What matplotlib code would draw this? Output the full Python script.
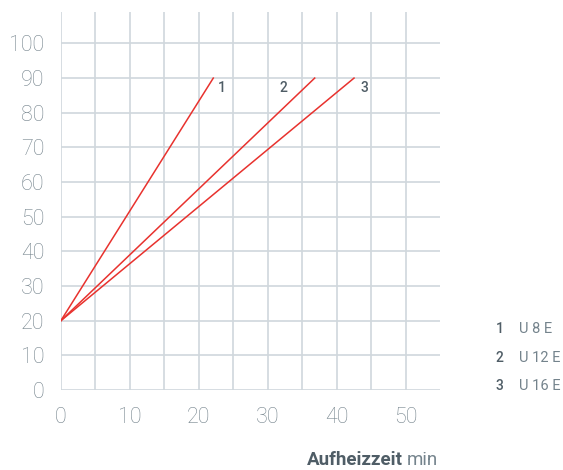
import matplotlib
matplotlib.use("Agg")
import matplotlib.pyplot as plt
import numpy as np

# data
start_temp = 20
end_temp = 90
end_times = [22.1, 36.8, 42.5]   # minutes to reach 90
curve_ids = ["1", "2", "3"]
models = ["U 8 E", "U 12 E", "U 16 E"]
label_x = [23.4, 32.3, 44.0]

x_ticks = [0, 10, 20, 30, 40, 50]
y_ticks = [0, 10, 20, 30, 40, 50, 60, 70, 80, 90, 100]

plt.rcParams['font.family'] = ['Roboto', 'DejaVu Sans']
grey = "#74838c"
dark = "#4f5d66"
gridc = "#d0d7dd"
red = "#e8322e"

fig = plt.figure(figsize=(5.63, 4.70), dpi=100)
ax = fig.add_axes([0.108, 0.170, 0.674, 0.804])
ax.set_xlim(0, 55)
ax.set_ylim(0, 109)

#grid drawn by hand: verticals up to top, horizontals up to 100
ax.vlines(np.arange(0, 55, 5), 0, 109, color=gridc, lw=1.2, zorder=1)
ax.hlines(y_ticks, 0, 55, color=gridc, lw=1.2, zorder=1)

for t, cid, lx in zip(end_times, curve_ids, label_x):
    ax.plot([0, t], [start_temp, end_temp], color=red, lw=1.1, zorder=3)
    ax.text(lx, 87, cid, color=dark, fontsize=10, fontweight="medium", ha="center", va="center")

for s in ax.spines.values():
    s.set_visible(False)
ax.set_xticks(x_ticks)
ax.set_yticks(y_ticks)
ax.tick_params(length=0, labelsize=15.5, labelcolor=grey, pad=12)
for lab in ax.get_xticklabels() + ax.get_yticklabels():
    lab.set_fontweight("light")

# legend at right
for i, (cid, m) in enumerate(zip(curve_ids, models)):
    y = 0.300 - i * 0.061
    fig.text(0.887, y, cid, color=dark, fontsize=10, fontweight="medium", ha="center", va="center")
    fig.text(0.921, y, m, color=grey, fontsize=10.5, ha="left", va="center")

fig.text(0.545, 0.003, "Aufheizzeit", color=dark, fontsize=13.5, fontweight="bold", ha="left", va="bottom")
fig.text(0.722, 0.003, "min", color=grey, fontsize=13.5, ha="left", va="bottom")

fig.savefig("out.png", dpi=100)
